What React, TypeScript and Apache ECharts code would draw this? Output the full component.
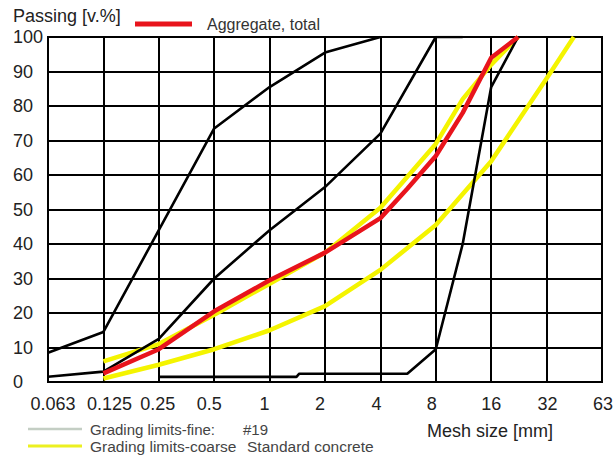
import React, { useEffect, useRef } from "react";
import * as echarts from "echarts";

// Sieve (mesh) sizes shown on the x axis, mm
const sieveLabels = ["0.063", "0.125", "0.25", "0.5", "1", "2", "4", "8", "16", "32", "63"];
// Y axis ticks
const yTicks = [0, 100, 10]; // min, max, interval

// Black grading limit curves
const meshFineA = [0.063, 0.125, 0.25, 0.5, 1, 2, 4];
const passFineA = [8.5, 14.5, 44, 73.5, 85.5, 95.5, 100];

const meshFineB = [0.063, 0.125, 0.25, 0.5, 1, 2, 4, 8, 11.2];
const passFineB = [1.5, 3, 12.5, 30, 44, 56.5, 72, 100, 100];

const meshFineC = [0.25, 1.4, 1.45, 5.6, 8, 11.2, 16, 22.4];
const passFineC = [1.5, 1.5, 2.4, 2.4, 9.5, 40, 85.5, 100];

// Yellow grading limits (standard concrete)
const meshCoarseUpper = [0.125, 0.25, 0.5, 1, 2, 4, 8, 11.2, 16, 22.4];
const passCoarseUpper = [6, 11, 19.5, 28.5, 37.5, 50.5, 69, 82, 92, 100];

const meshCoarseLower = [0.125, 0.25, 0.5, 1, 2, 4, 8, 16, 32, 45];
const passCoarseLower = [1, 5, 9.5, 15, 22, 32.5, 45.5, 64, 88, 100];

// Red: aggregate total
const meshTotal = [0.125, 0.25, 0.5, 1, 2, 4, 5.6, 8, 11.2, 16, 22.4];
const passTotal = [2.5, 9.5, 20.5, 29.5, 37.5, 47.5, 56, 65.5, 78, 94, 100];

// Position of a mesh size on the evenly spaced sieve scale (log base 2)
function pos(d: number): number {
  const p = Math.log2(d / 0.0625);
  const r = Math.round(p);
  return Math.abs(p - r) < 0.03 ? r : p;
}
function pts(mesh: number[], pass: number[]) {
  return mesh.map((d, i) => [pos(d), pass[i]]);
}

// per-label horizontal nudges (px) to match the reference label placement
const labelShift = [5, 6, -1, -5, -5, -5, -4, -4, 0, 1, 1];

const FONT = "Liberation Sans, Arial, sans-serif";

export default function App() {
  const ref = useRef<HTMLDivElement>(null);
  useEffect(() => {
    if (!ref.current) return;
    const chart = echarts.init(ref.current, null, { renderer: "svg" });
    const rich: Record<string, any> = {};
    labelShift.forEach((s, i) => {
      rich["l" + i] = {
        fontSize: 18,
        fontFamily: FONT,
        color: "#222",
        padding: s >= 0 ? [0, 0, 0, 2 * s] : [0, -2 * s, 0, 0],
      };
    });
    const black = { color: "#000", width: 2.6 };
    const gridLine = { color: "#000", width: 2 };
    chart.setOption({
      animation: false,
      backgroundColor: "#fff",
      textStyle: { fontFamily: FONT },
      legend: {
        data: ["Aggregate, total"],
        left: 130,
        top: 11,
        icon: "rect",
        itemWidth: 57,
        itemHeight: 5,
        textStyle: { fontSize: 16, color: "#333", padding: [0, 0, 0, 10] },
      },
      grid: {
        left: 48,
        right: 14,
        top: 37,
        bottom: 73,
        show: true,
        borderColor: "#000",
        borderWidth: 2,
        backgroundColor: "#fff",
      },
      xAxis: {
        type: "value",
        min: 0,
        max: sieveLabels.length - 1,
        interval: 1,
        axisLine: { lineStyle: gridLine },
        axisTick: { show: false },
        splitLine: { show: true, lineStyle: gridLine },
        axisLabel: {
          margin: 13,
          formatter: (v: number) => {
            const i = Math.round(v);
            return "{l" + i + "|" + sieveLabels[i] + "}";
          },
          rich,
        },
      },
      yAxis: {
        type: "value",
        min: yTicks[0],
        max: yTicks[1],
        interval: yTicks[2],
        axisLine: { show: true, lineStyle: gridLine },
        axisTick: { show: false },
        splitLine: { show: true, lineStyle: gridLine },
        axisLabel: {
          align: "left",
          margin: 35,
          fontSize: 18,
          color: "#222",
        },
      },
      graphic: [
        {
          type: "text",
          x: 13,
          y: 16,
          style: { text: "Passing [v.%]", fontSize: 18, fill: "#222", verticalAlign: "middle", fontFamily: FONT },
        },
        {
          type: "text",
          x: 427,
          y: 431,
          style: { text: "Mesh size [mm]", fontSize: 18, fill: "#222", verticalAlign: "middle", fontFamily: FONT },
        },
        {
          type: "line",
          shape: { x1: 28, y1: 429, x2: 82, y2: 429 },
          style: { stroke: "#c4cec4", lineWidth: 2.5 },
        },
        {
          type: "line",
          shape: { x1: 28, y1: 446, x2: 82, y2: 446 },
          style: { stroke: "#ecf020", lineWidth: 3 },
        },
        {
          type: "text",
          x: 90,
          y: 429,
          style: { text: "Grading limits-fine:", fontSize: 15, fill: "#444", verticalAlign: "middle", fontFamily: FONT },
        },
        {
          type: "text",
          x: 243,
          y: 429,
          style: { text: "#19", fontSize: 15, fill: "#444", verticalAlign: "middle", fontFamily: FONT },
        },
        {
          type: "text",
          x: 90,
          y: 446,
          style: { text: "Grading limits-coarse", fontSize: 15.5, fill: "#444", verticalAlign: "middle", fontFamily: FONT },
        },
        {
          type: "text",
          x: 247,
          y: 446,
          style: { text: "Standard concrete", fontSize: 15.5, fill: "#444", verticalAlign: "middle", fontFamily: FONT },
        },
      ],
      series: [
        {
          name: "Grading limits-coarse upper",
          type: "line",
          data: pts(meshCoarseUpper, passCoarseUpper),
          showSymbol: false,
          lineStyle: { color: "#f4f400", width: 4.5, join: "round" },
          itemStyle: { color: "#f4f400" },
          z: 2,
        },
        {
          name: "Grading limits-coarse lower",
          type: "line",
          data: pts(meshCoarseLower, passCoarseLower),
          showSymbol: false,
          lineStyle: { color: "#f4f400", width: 4.5, join: "round" },
          itemStyle: { color: "#f4f400" },
          z: 2,
        },
        {
          name: "Grading limits-fine A",
          type: "line",
          data: pts(meshFineA, passFineA),
          showSymbol: false,
          lineStyle: black,
          itemStyle: { color: "#000" },
          z: 3,
        },
        {
          name: "Grading limits-fine B",
          type: "line",
          data: pts(meshFineB, passFineB),
          showSymbol: false,
          lineStyle: black,
          itemStyle: { color: "#000" },
          z: 3,
        },
        {
          name: "Grading limits-fine C",
          type: "line",
          data: pts(meshFineC, passFineC),
          showSymbol: false,
          lineStyle: black,
          itemStyle: { color: "#000" },
          z: 3,
        },
        {
          name: "Aggregate, total",
          type: "line",
          data: pts(meshTotal, passTotal),
          showSymbol: false,
          lineStyle: { color: "#e8141c", width: 4.5, join: "round" },
          itemStyle: { color: "#e8141c" },
          z: 4,
        },
      ],
    });
    return () => chart.dispose();
  }, []);
  return <div ref={ref} style={{ width: 616, height: 455, position: "absolute", left: 0, top: 0 }} />;
}
